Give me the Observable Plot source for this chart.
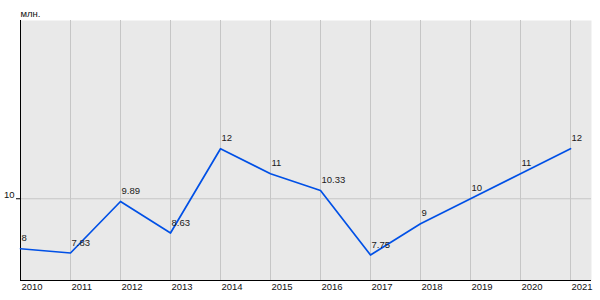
<!DOCTYPE html>
<html><head><meta charset="utf-8">
<script src="https://cdn.jsdelivr.net/npm/d3@7"></script>
<script src="https://cdn.jsdelivr.net/npm/@observablehq/plot@0.6"></script>
<style>body{margin:0;background:#fff;}</style>
</head><body><div id="chart"></div>
<script>
const years = [2010, 2011, 2012, 2013, 2014, 2015, 2016, 2017, 2018, 2019, 2020, 2021];
const values = [8, 7.83, 9.89, 8.63, 12, 11, 10.33, 7.75, 9, 10, 11, 12];
const valueLabels = ["8", "7.83", "9.89", "8.63", "12", "11", "10.33", "7.75", "9", "10", "11", "12"];
const yTicks = [10];
const yDomain = [6.73, 17.13];
const xDomain = [2010, 2021.42];
const unitLabel = "млн.";

const data = years.map((year, i) => ({year, value: values[i], label: valueLabels[i]}));

const chart = Plot.plot({
  width: 600, height: 300,
  marginTop: 20, marginBottom: 20, marginLeft: 20, marginRight: 9,
  style: {fontFamily: "Arial, 'Liberation Sans', sans-serif", fontSize: "9.5px", color: "#111", background: "#fff", overflow: "visible"},
  x: {type: "linear", domain: xDomain},
  y: {domain: yDomain},
  marks: [
    Plot.frame({fill: "#e9e9e9", stroke: null}),
    Plot.ruleX(years, {stroke: "#c6c6c6"}),
    Plot.ruleY(yTicks, {stroke: "#c6c6c6"}),
    Plot.ruleX([xDomain[0]], {stroke: "#000"}),
    Plot.ruleY([yDomain[0]], {stroke: "#000"}),
    Plot.line(data, {x: "year", y: "value", stroke: "#0050e6", strokeWidth: 1.7}),
    Plot.text(data, {x: "year", y: "value", text: "label", textAnchor: "start", dx: 1, dy: -10.5, fill: "#1a1a1a"}),
    Plot.axisX(years, {tickSize: 0, tickPadding: 3, tickFormat: d => String(d), textAnchor: "start", dx: 1, label: null, fill: "#111"}),
    Plot.axisY(yTicks, {tickSize: 4, tickFormat: () => "", label: null, stroke: "#000"}),
    Plot.axisY(yTicks, {tickSize: 0, tickPadding: 6, dy: -4, label: null, fill: "#111"}),
    Plot.text([unitLabel], {frameAnchor: "top-left", text: d => d, textAnchor: "start", lineAnchor: "bottom", dy: -4, fill: "#111"})
  ]
});
document.getElementById("chart").append(chart);
</script>
</body></html>
